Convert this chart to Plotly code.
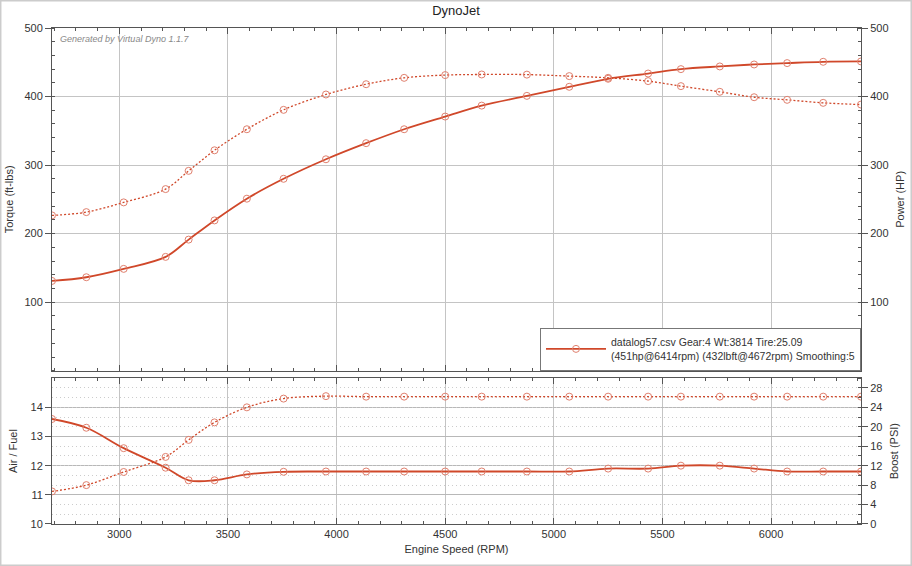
# DynoJet run: torque / power on top, air-fuel and boost underneath
import plotly.graph_objects as go

# marker points
rpm = [2690, 2848, 3020, 3213, 3319, 3438, 3587, 3756, 3951, 4136, 4311, 4500,
       4668, 4876, 5071, 5250, 5434, 5585, 5764, 5922, 6074, 6240, 6414]
torque = [226.6, 231.4, 245.6, 265.0, 291.6, 321.6, 352.3, 380.6, 403.0, 418.0, 427.3, 431.3,
          432.2, 432.0, 429.8, 427.3, 422.5, 415.2, 406.9, 399.0, 395.2, 390.8, 388.3]
power = [131.0, 136.4, 148.6, 166.1, 191.3, 219.3, 251.0, 280.0, 308.5, 332.0, 352.3, 370.8,
         386.8, 401.0, 414.2, 425.9, 433.6, 440.0, 443.9, 446.8, 448.8, 450.7, 451.2]
afr = [13.6, 13.3, 12.6, 11.93, 11.5, 11.5, 11.7, 11.79, 11.8, 11.8, 11.8, 11.8,
       11.8, 11.8, 11.8, 11.9, 11.9, 12.0, 12.0, 11.9, 11.8, 11.8, 11.8]
boost = [6.7, 8.0, 10.7, 13.8, 17.3, 20.9, 24.0, 25.8, 26.3, 26.2, 26.2, 26.2,
         26.2, 26.2, 26.2, 26.2, 26.2, 26.2, 26.2, 26.2, 26.2, 26.2, 26.2]

rpm_ticks = [3000, 3500, 4000, 4500, 5000, 5500, 6000]
top_ticks = [100, 200, 300, 400, 500]
afr_ticks = [10, 11, 12, 13, 14]
boost_ticks = [0, 4, 8, 12, 16, 20, 24, 28]

legend_name = ('datalog57.csv Gear:4 Wt:3814 Tire:25.09<br>'
               '(451hp@6414rpm) (432lbft@4672rpm) Smoothing:5')

red = '#d0482a'
mk = dict(symbol='circle-open', size=7, color='#e0806e', line=dict(width=1))
font = 'Liberation Sans, Arial, sans-serif'
dots = '2px,2px'

fig = go.Figure()
fig.add_trace(go.Scatter(x=rpm, y=torque, xaxis='x2', yaxis='y', mode='lines+markers',
                         line=dict(color=red, width=1.3, dash=dots, shape='spline'),
                         marker=mk, showlegend=False))
fig.add_trace(go.Scatter(x=rpm, y=power, xaxis='x2', yaxis='y2', mode='lines+markers',
                         line=dict(color=red, width=1.8, shape='spline'),
                         marker=mk, name=legend_name))
fig.add_trace(go.Scatter(x=rpm, y=boost, xaxis='x', yaxis='y4', mode='lines+markers',
                         line=dict(color=red, width=1.3, dash=dots, shape='spline'),
                         marker=mk, showlegend=False))
fig.add_trace(go.Scatter(x=rpm, y=afr, xaxis='x', yaxis='y3', mode='lines+markers',
                         line=dict(color=red, width=1.8, shape='spline'),
                         marker=mk, showlegend=False))

axcol = '#555555'
grid = '#c4c4c4'
tickfont = dict(family=font, size=11, color='#333333')
titlefont = dict(family=font, size=11, color='#333333')
top_dom = [0.309, 1.0]
bot_dom = [0.0, 0.294]

xcommon = dict(range=[2690, 6414], tickvals=rpm_ticks, showgrid=True, gridcolor=grid,
               showline=True, linecolor=axcol, linewidth=1, mirror='ticks',
               ticks='inside', ticklen=6, tickcolor=axcol, automargin=False,
               minor=dict(dtick=100, ticks='inside', ticklen=3, tickcolor=axcol, showgrid=False),
               zeroline=False, tickfont=tickfont)

fig.update_layout(
    width=912, height=566,
    margin=dict(l=52, r=51, t=28, b=42),
    paper_bgcolor='white', plot_bgcolor='white',
    font=dict(family=font, size=11, color='#333333'),
    title=dict(text='DynoJet', x=0.5, xanchor='center', y=0.989, yanchor='top',
               font=dict(family=font, size=13, color='#222222')),
    xaxis=dict(xcommon, anchor='y3',
               title=dict(text='Engine Speed (RPM)', font=titlefont, standoff=6)),
    xaxis2=dict(xcommon, anchor='y', matches='x', showticklabels=False),
    yaxis=dict(domain=top_dom, range=[0, 500], tickvals=top_ticks, anchor='x2',
               showgrid=True, gridcolor=grid, zeroline=False, automargin=False,
               showline=True, linecolor=axcol, ticks='outside', ticklen=6, tickcolor=axcol,
               minor=dict(dtick=20, ticks='inside', ticklen=3, tickcolor=axcol, showgrid=False),
               tickfont=tickfont, title=dict(text='Torque (ft-lbs)', font=titlefont, standoff=8)),
    yaxis2=dict(domain=top_dom, range=[0, 500], tickvals=top_ticks, overlaying='y',
                side='right', anchor='x2', showgrid=False, zeroline=False, automargin=False,
                showline=True, linecolor=axcol, ticks='outside', ticklen=6, tickcolor=axcol,
                minor=dict(dtick=20, ticks='inside', ticklen=3, tickcolor=axcol, showgrid=False),
                tickfont=tickfont, title=dict(text='Power (HP)', font=titlefont, standoff=8)),
    yaxis3=dict(domain=bot_dom, range=[10, 15], tickvals=afr_ticks, anchor='x',
                showgrid=True, gridcolor='#b8b8b8', zeroline=False, automargin=False,
                showline=True, linecolor=axcol, ticks='outside', ticklen=6, tickcolor=axcol,
                tickfont=tickfont, title=dict(text='Air / Fuel', font=titlefont, standoff=10)),
    yaxis4=dict(domain=bot_dom, range=[0, 30], tickvals=boost_ticks, overlaying='y3',
                side='right', anchor='x', showgrid=True, gridcolor='#cccccc', griddash='1px,3px',
                zeroline=False, showline=True, linecolor=axcol, ticks='outside', ticklen=6,
                tickcolor=axcol, automargin=False,
                minor=dict(dtick=2, ticks='inside', ticklen=3, tickcolor=axcol,
                           showgrid=True, gridcolor='#cccccc', griddash='1px,3px'),
                tickfont=tickfont, title=dict(text='Boost (PSI)', font=titlefont, standoff=8)),
    legend=dict(x=1.0, xanchor='right', y=0.309, yanchor='bottom',
                bgcolor='white', bordercolor='#777777', borderwidth=1,
                font=dict(family=font, size=10.5, color='#333333'),
                itemwidth=60, tracegroupgap=0),
    annotations=[dict(text='<i>Generated by Virtual Dyno 1.1.7</i>', xref='paper', yref='paper',
                      x=0.008, y=0.992, xanchor='left', yanchor='top', showarrow=False,
                      font=dict(family=font, size=9, color='#888888'))],
    shapes=[dict(type='rect', xref='paper', yref='paper', x0=-0.0637, x1=1.0624,
                 y0=-0.0837, y1=1.0555, line=dict(color='#cccccc', width=2), layer='below')],
)

# page default body margin shifts the chart, drop it
fig.write_html('out.html', config={'displayModeBar': False},
               post_script="document.body.style.margin='0';")
